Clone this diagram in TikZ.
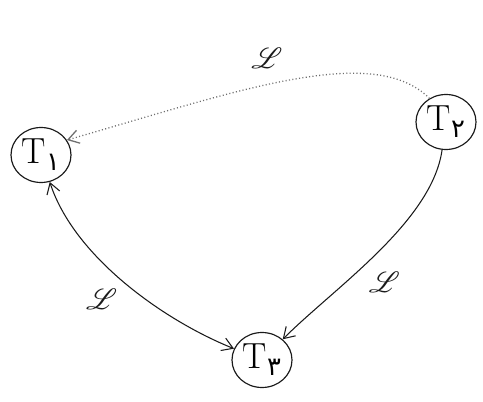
\documentclass[tikz,border=0pt]{standalone}
\usepackage{mathrsfs}
\usepackage{fontspec}
\usetikzlibrary{arrows.meta, shapes.geometric, positioning}
\newfontfamily\fadigits[Script=Arabic]{DejaVu Sans}
\definecolor{ink}{HTML}{1A1A1A}
\definecolor{faint}{HTML}{6E6E6E}

\begin{document}
\begin{tikzpicture}[x=0.03cm, y=0.03cm,
   tnode/.style={ellipse, draw=ink, line width=1pt, minimum width=1.8cm,
     minimum height=1.65cm, inner sep=1pt, font=\fontsize{31}{33}\selectfont},
   ar/.style={-{Straight Barb[length=3.2mm, width=4mm]}, line width=0.9pt, draw=ink},
   dar/.style={ar, draw=faint, dotted, line width=1.1pt},
   lab/.style={font=\fontsize{26}{28}\selectfont, text=ink}]
 \useasboundingbox (0,0) rectangle (483,-402);
 \node[tnode] (t1) at (41,-155) {T\raisebox{-0.45ex}{\fontsize{22}{24}\fadigits ۱}};
 \node[tnode] (t2) at (446,-122) {T\raisebox{-0.45ex}{\fontsize{22}{24}\fadigits ۲}};
 \node[tnode] (t3) at (262,-360) {T\raisebox{-0.45ex}{\fontsize{22}{24}\fadigits ۳}};
 \draw[dar] (t2.125) .. controls +(135:80) and +(16:175) .. node[lab, pos=0.56, above=10pt] {$\mathscr{L}$} (t1.30);
 \draw[ar] (t2) to[out=-98, in=45, looseness=0.75] node[lab, pos=0.58, below right=0pt and 2pt] {$\mathscr{L}$} (t3);
 \draw[{Straight Barb[length=3.2mm, width=4mm]}-{Straight Barb[length=3.2mm, width=4mm]}, line width=0.9pt, draw=ink]
   (t1) to[out=-72, in=158, looseness=0.8] node[lab, pos=0.5, below left=2pt and 2pt] {$\mathscr{L}$} (t3);
\end{tikzpicture}
\end{document}
